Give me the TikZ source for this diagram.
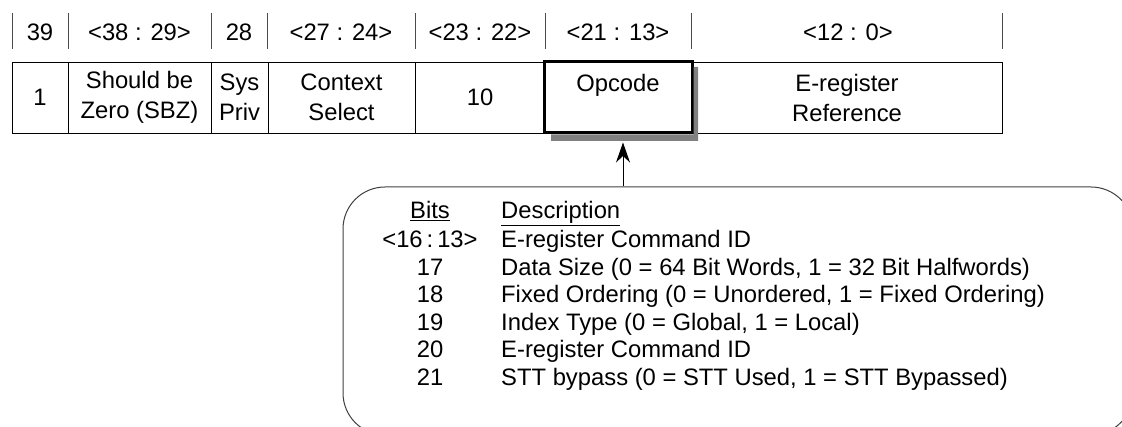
\documentclass[tikz,border=0pt]{standalone}
\usepackage{fontspec}
\setmainfont{Liberation Sans}
\usetikzlibrary{calc,positioning,arrows.meta}
\newcommand{\bigtxt}{\fontsize{23.8}{30}\selectfont}
\definecolor{shadowc}{RGB}{128,128,128}
\tikzset{
  tick/.style={line width=1pt,black!70},
  hdr/.style={font=\bigtxt,inner sep=0pt,anchor=base},
  cell/.style={draw=black,line width=0.9pt,minimum height=71pt,inner sep=0pt,align=center,font=\bigtxt},
  opc/.style={cell,fill=white,line width=3pt},
  opcshadow/.style={fill=shadowc,draw=none},
  desc/.style={draw=black!75,line width=1pt,rounded corners=42pt,minimum width=790pt,minimum height=248pt},
  txt/.style={font=\bigtxt,inner sep=0pt},
  ptr/.style={-{Stealth[length=20pt,width=14pt]},line width=1pt},
}

\begin{document}
\begin{tikzpicture}[x=1pt,y=-1pt]
  \useasboundingbox (0,0) rectangle (1122,427);
  % bit ranges over the fields
  \foreach \x in {12,68,211,267,415,545,691,1002} \draw[tick] (\x,13) -- (\x,49);
  \foreach \x/\t [count=\i] in {40/39, 139.5/{<38 : 29>}, 239/28, 341/{<27 : 24>},
      480/{<23 : 22>}, 618/{<21 : 13>}, 848/{<12 : 0>}}
    \node[hdr] (h\i) at (\x,40.5) {\t};
  % the fields of the word
  \node[cell,minimum width=56pt]  (f1) at (40,97.5) {1};
  \node[cell,minimum width=143pt] (f2) at (139.5,97.5) {Should be\\Zero (SBZ)};
  \node[cell,minimum width=57pt]  (f3) at (239.5,97.5) {Sys\\Priv};
  \node[cell,minimum width=147pt] (f4) at (341.5,97.5) {Context\\Select};
  \node[cell,minimum width=310pt] (f7) at (847,97.5) {E-register\\Reference};
  \node[cell,minimum width=130pt] (f5) at (480,97.5) {10};
  % opcode field, raised with a shadow
  \node[opc,minimum width=148pt]  (opc) at (618,97.5) {Opcode\\~};
  \fill[opcshadow] (693.5,67) -- (698,67) -- (698,141) -- (551,141)
    -- (551,134.5) -- (693.5,134.5) -- cycle;
  % callout with the opcode bits
  \begin{scope}
    \clip (0,0) rectangle (1122,427);
    \node[desc] (box) at (738,311) {};
  \end{scope}
  \coordinate (hit) at ($(opc.south)+(5,8)$);
  \draw[ptr] (hit |- box.north) -- (hit);
  \node[txt,anchor=base] (bh) at (430,218.5) {\underline{Bits}};
  \node[txt,anchor=base west] (dh) at (501,218.5) {\underline{Description}};
  \foreach \b/\d [count=\i] in {{<16\,:\,13>}/{E-register Command ID},
      17/{Data Size (0 = 64 Bit Words, 1 = 32 Bit Halfwords)},
      18/{Fixed Ordering (0 = Unordered, 1 = Fixed Ordering)},
      19/{Index Type (0 = Global, 1 = Local)},
      20/{E-register Command ID},
      21/{STT bypass (0 = STT Used, 1 = STT Bypassed)}}
  {
    \node[txt,anchor=base] (b\i) at (430,248+27.5*\i-27.5) {\b};
    \node[txt,anchor=base west] (d\i) at (501,248+27.5*\i-27.5) {\d};
  }
\end{tikzpicture}
\end{document}
